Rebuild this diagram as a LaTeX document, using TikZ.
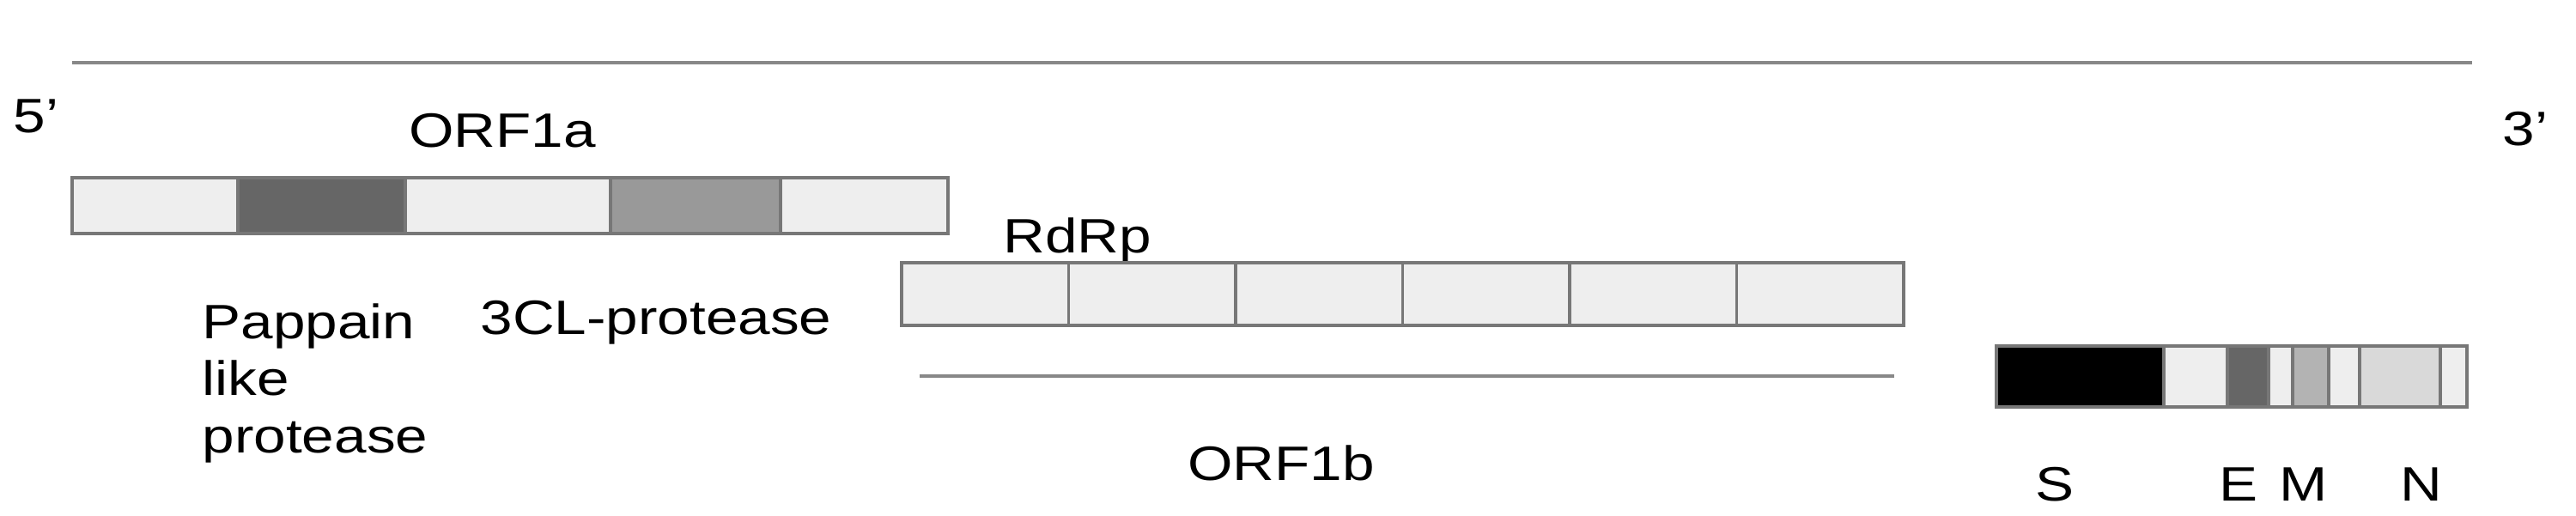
\documentclass[tikz,border=0pt]{standalone}
\usepackage{fontspec}
\setmainfont{Liberation Sans}[FakeStretch=1.2]
\definecolor{segpale}{HTML}{EEEEEE}
\definecolor{segdark}{HTML}{666666}
\definecolor{segmid}{HTML}{999999}
\definecolor{seglite}{HTML}{B3B3B3}
\definecolor{segsoft}{HTML}{D9D9D9}
\definecolor{segedge}{HTML}{777777}
\definecolor{strandgray}{HTML}{888888}
\begin{document}
\begin{tikzpicture}[
  seg/.style={draw=segedge,line width=1.1pt},
  strand/.style={draw=strandgray,line width=1.3pt},
  lbl/.style={inner sep=0pt,font=\fontsize{16}{18.8}\selectfont}]
  \useasboundingbox (0,0) rectangle (30,-6.01);
  % genome strand with its ends
  \coordinate (gl) at (0.84,-0.73);
  \coordinate (gr) at (28.79,-0.73);
  \draw[strand] (gl)--(gr);
  \node[lbl,anchor=base west] (five) at (0.15,-1.55) {5’};
  \node[lbl,anchor=base west] (three) at (29.14,-1.70) {3’};
  % ORF1a
  \node[lbl,anchor=base] (orfa) at (5.85,-1.72) {ORF1a};
  \foreach \xa/\xb/\c in {0.84/2.77/segpale,2.77/4.72/segdark,4.72/7.11/segpale,7.11/9.09/segmid,9.09/11.04/segpale}
    \draw[seg,fill=\c] (\xa,-2.07) rectangle (\xb,-2.72);
  \node[lbl,anchor=base west,align=left] (plpro) at (2.35,-5.27) {Pappain\\like\\protease};
  \node[lbl,anchor=base west] (clpro) at (5.59,-3.90) {3CL-protease};
  % ORF1b
  \node[lbl,anchor=base west] (rdrp) at (11.68,-2.95) {RdRp};
  \foreach \i in {0,...,5}
    \draw[seg,fill=segpale] (10.50+1.945*\i,-3.06) rectangle (12.445+1.945*\i,-3.79);
  \coordinate (bl) at (10.71,-4.38);
  \coordinate (br) at (22.06,-4.38);
  \draw[strand,line width=1pt] (bl)--(br);
  \node[lbl,anchor=base] (orfb) at (14.92,-5.59) {ORF1b};
  % structural genes
  \foreach \xa/\xb/\c in {23.25/25.20/black,25.20/25.94/segpale,25.94/26.42/segdark,26.42/26.70/segpale,26.70/27.12/seglite,27.12/27.48/segpale,27.48/28.42/segsoft,28.42/28.73/segpale}
    \draw[seg,fill=\c] (\xa,-4.03) rectangle (\xb,-4.74);
  \node[lbl,anchor=base] (spike) at (23.93,-5.83) {S};
  \node[lbl,anchor=base] (env) at (26.07,-5.83) {E};
  \node[lbl,anchor=base] (memb) at (26.83,-5.83) {M};
  \node[lbl,anchor=base] (nucl) at (28.20,-5.83) {N};
\end{tikzpicture}
\end{document}
